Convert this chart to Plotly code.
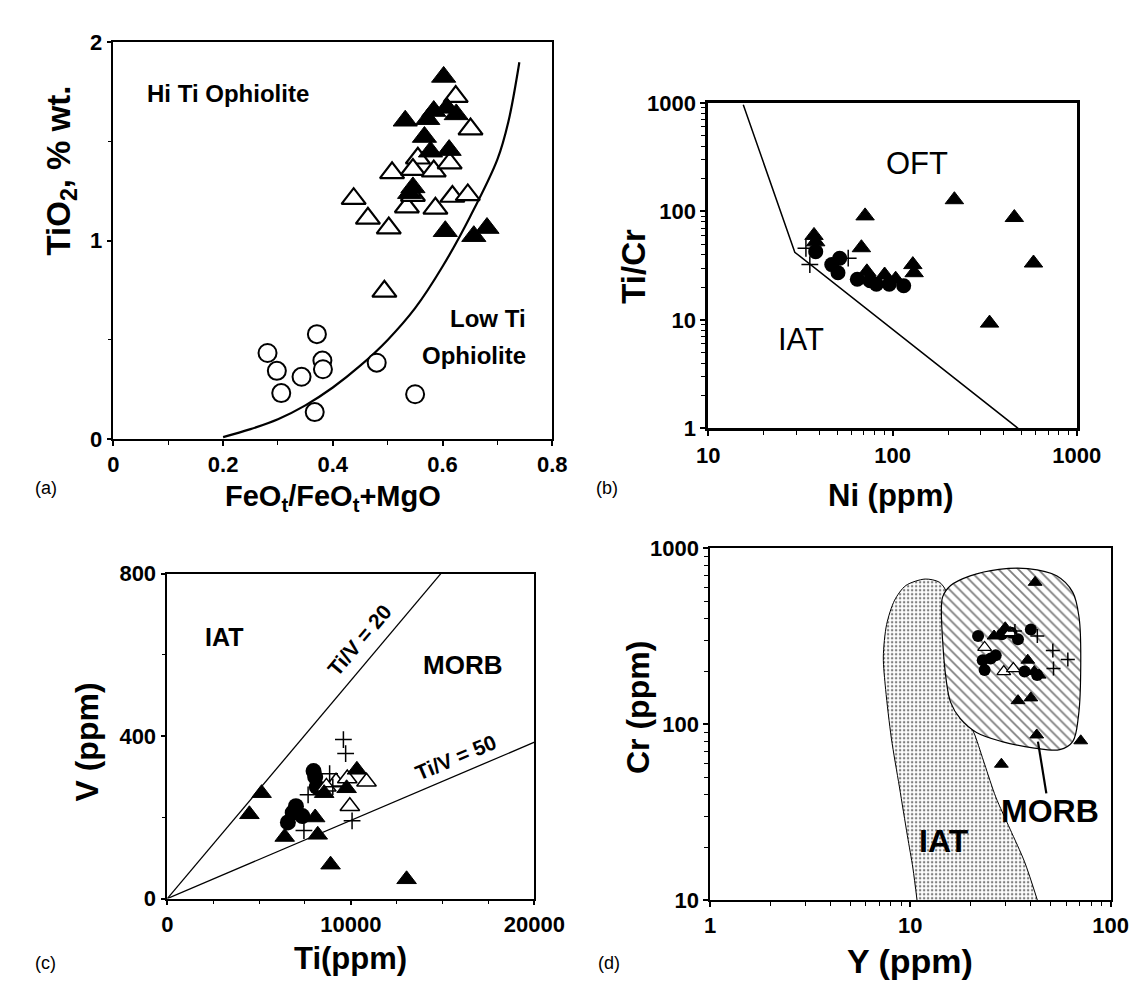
import numpy as np
import plotly.graph_objects as go

W, H = 1147, 984
FONT = "Liberation Sans, Arial, Helvetica, sans-serif"

# ---------------- Panel (a) data ----------------
a_circ_x = [0.281, 0.298, 0.306, 0.343, 0.371, 0.381, 0.382, 0.367, 0.480, 0.550]
a_circ_y = [0.434, 0.344, 0.232, 0.314, 0.529, 0.396, 0.352, 0.136, 0.385, 0.226]
a_open_x = [0.624, 0.651, 0.555, 0.508, 0.546, 0.584, 0.613, 0.438, 0.464, 0.502, 0.535, 0.546, 0.587, 0.618, 0.646, 0.494]
a_open_y = [1.727, 1.563, 1.416, 1.342, 1.359, 1.351, 1.391, 1.212, 1.113, 1.064, 1.170, 1.228, 1.163, 1.223, 1.231, 0.745]
a_fill_x = [0.602, 0.532, 0.573, 0.584, 0.608, 0.625, 0.567, 0.578, 0.612, 0.546, 0.605, 0.657, 0.681, 0.540]
a_fill_y = [1.826, 1.605, 1.613, 1.654, 1.670, 1.637, 1.523, 1.449, 1.457, 1.269, 1.048, 1.023, 1.064, 1.240]
a_curve_x = [0.20, 0.25, 0.30, 0.35, 0.40, 0.45, 0.50, 0.55, 0.60, 0.65, 0.70, 0.72, 0.74]
a_curve_y = [0.01, 0.05, 0.10, 0.17, 0.26, 0.37, 0.50, 0.66, 0.87, 1.12, 1.41, 1.60, 1.90]

# ---------------- Panel (b) data ----------------
b_line_x = [15.5, 29.5, 480]
b_line_y = [960, 42, 1]
b_tri_x = [37.5, 38.3, 71, 67.8, 216.6, 458, 582, 336, 128.9, 131, 72.6, 90.6, 104]
b_tri_y = [60, 52.4, 90.8, 46.2, 128, 87.7, 33.4, 9.33, 32.3, 27.2, 27.7, 25.9, 23.7]
b_dot_x = [38.3, 46.8, 51.7, 50.6, 64.4, 75.5, 81.8, 96, 115]
b_dot_y = [42.5, 32.3, 37, 27.2, 23.7, 22.9, 21.3, 21.3, 20.6]
b_cross_x = [33.9, 35.6, 57.5]
b_cross_y = [45.6, 32.3, 37]

# ---------------- Panel (c) data ----------------
c_line20_x = [0, 14900]
c_line20_y = [0, 800]
c_line50_x = [0, 20000]
c_line50_y = [0, 385]
c_tri_x = [5138, 4474, 10328, 9769, 8545, 8056, 8196, 6396, 8895, 13035]
c_tri_y = [259.5, 207.5, 317, 271.5, 259.5, 199.6, 157, 151.6, 83.5, 47.5]
c_dot_x = [7968, 8056, 8143, 7008, 6833, 6570, 7357]
c_dot_y = [313.8, 299.5, 275, 227.5, 211.5, 187.6, 203]
c_open_x = [9192, 9804, 10852, 9944, 8668]
c_open_y = [287.5, 295.5, 287.5, 227.5, 275]
c_cross_x = [9594, 9716, 8843, 7671, 7444, 10066, 9017]
c_cross_y = [391.5, 357, 307.5, 255.5, 167.5, 191.4, 275]

# ---------------- Panel (d) data ----------------
d_morb_x = [14.3, 14.5, 15.1, 15.9, 17.8, 21.4, 28.7, 41.6, 55.8, 64.7, 69.2, 71, 69.7, 64.7, 53.8, 38.6, 27.7, 19.9, 15.9, 14.5]
d_morb_y = [455, 298, 179, 133, 107, 89.7, 79.6, 73.1, 71.6, 79.6, 112, 221, 401, 563, 697, 766, 759, 697, 614, 529]
d_iat_x = [10.8, 10.3, 9.67, 8.82, 8.04, 7.53, 7.33, 7.61, 8.35, 9.5, 11.85, 14.0, 15.3, 18.5, 21, 23.5, 26.7, 31.5, 37.2, 43.1]
d_iat_y = [10, 15.2, 23.2, 44, 83.2, 157, 241, 368, 507, 614, 668, 640, 551, 122, 86.8, 59.2, 38.6, 25.3, 16.5, 10]
d_tri_x = [42, 71, 28.5, 42.8, 34.5, 40, 38.6, 29.8, 26.2, 41.6, 44]
d_tri_y = [640, 80.4, 59.2, 86.8, 136, 141, 231, 353, 317, 199, 190]
d_dot_x = [21.8, 23, 25.2, 26.7, 34.5, 40, 37.2, 43, 23.5, 28.7, 32]
d_dot_y = [317, 231, 236, 246, 304, 345, 199, 190, 203, 324, 331]
d_open_x = [23.5, 29.3, 32.7, 31.5]
d_open_y = [273, 199, 207, 331]
d_cross_x = [33.3, 43.1, 51.5, 61.2, 51.9]
d_cross_y = [338, 317, 262, 233, 207]
d_arrow_x = [47.8, 43.4]
d_arrow_y = [40.4, 79.6]

# ---------------- helpers ----------------
def PX(x):
    return x / W

def PY(y):
    return 1 - y / H

fig = go.Figure()

def filled_tri(x, y, xa, ya, size):
    fig.add_trace(go.Scatter(x=x, y=y, xaxis=xa, yaxis=ya, mode="markers",
                             marker=dict(symbol="triangle-up", size=size, color="black",
                                         line=dict(color="black", width=1)),
                             showlegend=False, hoverinfo="skip"))

def open_tri(x, y, xa, ya, size, lw=2):
    fig.add_trace(go.Scatter(x=x, y=y, xaxis=xa, yaxis=ya, mode="markers",
                             marker=dict(symbol="triangle-up", size=size, color="white",
                                         line=dict(color="black", width=lw)),
                             showlegend=False, hoverinfo="skip"))

def dots(x, y, xa, ya, size):
    fig.add_trace(go.Scatter(x=x, y=y, xaxis=xa, yaxis=ya, mode="markers",
                             marker=dict(symbol="circle", size=size, color="black"),
                             showlegend=False, hoverinfo="skip"))

def crosses(x, y, xa, ya, size):
    fig.add_trace(go.Scatter(x=x, y=y, xaxis=xa, yaxis=ya, mode="markers",
                             marker=dict(symbol="cross-thin", size=size, color="black",
                                         line=dict(color="black", width=1.5)),
                             showlegend=False, hoverinfo="skip"))

def line(x, y, xa, ya, width=1.5, shape="linear"):
    fig.add_trace(go.Scatter(x=x, y=y, xaxis=xa, yaxis=ya, mode="lines",
                             line=dict(color="black", width=width, shape=shape),
                             showlegend=False, hoverinfo="skip"))

# ---- panel a ----
line(a_curve_x, a_curve_y, "x", "y", width=2.2, shape="spline")
fig.add_trace(go.Scatter(x=a_circ_x, y=a_circ_y, xaxis="x", yaxis="y", mode="markers",
                         marker=dict(symbol="circle", size=18, color="white",
                                     line=dict(color="black", width=2)),
                         showlegend=False, hoverinfo="skip"))
open_tri(a_open_x, a_open_y, "x", "y", 21, lw=2.2)
filled_tri(a_fill_x, a_fill_y, "x", "y", 21)

# ---- panel b ----
line(b_line_x, b_line_y, "x2", "y2", width=1.5)
dots(b_dot_x, b_dot_y, "x2", "y2", 15)
filled_tri(b_tri_x, b_tri_y, "x2", "y2", 16)
crosses(b_cross_x, b_cross_y, "x2", "y2", 12)

# ---- panel c ----
line(c_line20_x, c_line20_y, "x3", "y3", width=1.3)
line(c_line50_x, c_line50_y, "x3", "y3", width=1.3)
dots(c_dot_x, c_dot_y, "x3", "y3", 16)
open_tri(c_open_x, c_open_y, "x3", "y3", 17, lw=1.5)
filled_tri(c_tri_x, c_tri_y, "x3", "y3", 17)
crosses(c_cross_x, c_cross_y, "x3", "y3", 12)

# ---- panel d ----
fig.add_trace(go.Scatter(x=d_iat_x, y=d_iat_y, xaxis="x4", yaxis="y4", mode="lines",
                         fill="toself",
                         fillpattern=dict(shape=".", bgcolor="white", fgcolor="black",
                                          size=4, solidity=0.3),
                         line=dict(color="black", width=1, shape="spline", smoothing=0.8),
                         showlegend=False, hoverinfo="skip"))
fig.add_trace(go.Scatter(x=d_morb_x + d_morb_x[:1], y=d_morb_y + d_morb_y[:1], xaxis="x4", yaxis="y4",
                         mode="lines", fill="toself",
                         fillpattern=dict(shape="\\", bgcolor="white", fgcolor="black",
                                          size=7, solidity=0.26),
                         line=dict(color="black", width=1.2, shape="spline", smoothing=1.0),
                         showlegend=False, hoverinfo="skip"))
line(d_arrow_x, d_arrow_y, "x4", "y4", width=2.2)
dots(d_dot_x, d_dot_y, "x4", "y4", 12)
open_tri(d_open_x, d_open_y, "x4", "y4", 12, lw=1.2)
filled_tri(d_tri_x, d_tri_y, "x4", "y4", 12)
crosses(d_cross_x, d_cross_y, "x4", "y4", 10)

# ---------------- axes ----------------
TICKFONT = dict(family=FONT, size=22, color="black", weight="bold")

def axis(domain, rng, tickvals, ticktext, typ="linear", minor=None, anchor=None, lw=1.5):
    d = dict(domain=domain, range=rng, type=typ, showgrid=False, zeroline=False,
             showline=True, linecolor="black", linewidth=lw, mirror=True,
             ticks="outside", ticklen=5, tickwidth=1.5, tickcolor="black",
             tickfont=TICKFONT, tickmode="array", tickvals=tickvals,
             ticktext=["<b>%s</b>" % t for t in ticktext], anchor=anchor,
             fixedrange=True)
    if minor is not None:
        d["minor"] = dict(tickmode="array", tickvals=minor, ticks="outside", ticklen=4,
                          tickwidth=1, tickcolor="black", showgrid=False)
    return d

def log_minor(dec_lo, dec_hi):
    out = []
    for e in range(dec_lo, dec_hi):
        for m in range(2, 10):
            out.append(m * 10 ** e)
    return out

# pixel boxes
A = dict(x0=97, x1=553, y0=23, y1=430)
B = dict(x0=715, x1=1098, y0=85, y1=419)
C = dict(x0=153, x1=534.5, y0=568, y1=901.5)
D = dict(x0=717, x1=1133, y0=542, y1=903)

def dom_x(b):
    return [PX(b["x0"]), PX(b["x1"])]

def dom_y(b):
    return [PY(b["y1"]), PY(b["y0"])]

fig.update_layout(
    xaxis=axis(dom_x(A), [0, 0.8], [0, 0.2, 0.4, 0.6, 0.8], ["0", "0.2", "0.4", "0.6", "0.8"],
               minor=[0.1, 0.3, 0.5, 0.7], anchor="y"),
    yaxis=axis(dom_y(A), [0, 2], [0, 1, 2], ["0", "1", "2"], minor=[0.5, 1.5], anchor="x"),
    xaxis2=axis(dom_x(B), [1, 3], [10, 100, 1000], ["10", "100", "1000"], typ="log",
                minor=log_minor(1, 3), anchor="y2", lw=2.5),
    yaxis2=axis(dom_y(B), [0, 3], [1, 10, 100, 1000], ["1", "10", "100", "1000"], typ="log",
                minor=log_minor(0, 3), anchor="x2", lw=2.5),
    xaxis3=axis(dom_x(C), [0, 20000], [0, 10000, 20000], ["0", "10000", "20000"],
                minor=[2500, 5000, 7500, 12500, 15000, 17500], anchor="y3"),
    yaxis3=axis(dom_y(C), [0, 800], [0, 400, 800], ["0", "400", "800"], minor=[200, 600], anchor="x3"),
    xaxis4=axis(dom_x(D), [0, 2], [1, 10, 100], ["1", "10", "100"], typ="log",
                minor=log_minor(0, 2), anchor="y4"),
    yaxis4=axis(dom_y(D), [1, 3], [10, 100, 1000], ["10", "100", "1000"], typ="log",
                minor=log_minor(1, 3), anchor="x4"),
)

# ---------------- annotations ----------------
ann = []

def paper_text(text, x, y, size, bold=True, angle=0, xanchor="center", yanchor="middle"):
    ann.append(dict(text=text, x=PX(x), y=PY(y), xref="paper", yref="paper", showarrow=False,
                    textangle=angle, xanchor=xanchor, yanchor=yanchor,
                    font=dict(family=FONT, size=size, color="black", weight="bold" if bold else "normal")))

def data_text(text, x, y, xref, yref, size, bold=True, angle=0, xanchor="center"):
    ann.append(dict(text=text, x=x, y=y, xref=xref, yref=yref, showarrow=False, textangle=angle,
                    xanchor=xanchor, yanchor="middle",
                    font=dict(family=FONT, size=size, color="black", weight="bold" if bold else "normal")))

# axis titles
paper_text("TiO<sub>2</sub>, % wt.", 43, 154, 33, angle=-90)
paper_text("FeO<sub>t</sub>/FeO<sub>t</sub>+MgO", 325, 490, 29)
paper_text("Ti/Cr", 637, 253, 33, angle=-90)
paper_text("Ni (ppm)", 905, 488, 31)
paper_text("V (ppm)", 70, 741, 32, angle=-90)
paper_text("Ti(ppm)", 343, 963, 31)
paper_text("Cr (ppm)", 642, 705, 32, angle=-90)
paper_text("Y (ppm)", 925, 966, 34)
# panel letters
paper_text("(a)", 27, 480, 18, bold=False)
paper_text("(b)", 610, 480, 18, bold=False)
paper_text("(c)", 27, 968, 18, bold=False)
paper_text("(d)", 612, 968, 18, bold=False)

# panel a labels
data_text("Hi Ti Ophiolite", 0.209, 1.744, "x", "y", 24)
data_text("Low Ti", 0.756, 0.609, "x", "y", 24, xanchor="right")
data_text("Ophiolite", 0.756, 0.422, "x", "y", 24, xanchor="right")
# panel b labels
data_text("OFT", np.log10(135), np.log10(274), "x2", "y2", 31, bold=False)
data_text("IAT", np.log10(31.9), np.log10(6.6), "x2", "y2", 31, bold=False)
# panel c labels
data_text("IAT", 3077, 643, "x3", "y3", 25)
data_text("MORB", 16094, 575, "x3", "y3", 26)
data_text("Ti/V = 20", 10450, 635, "x3", "y3", 21, angle=-49.6)
data_text("Ti/V = 50", 15700, 348, "x3", "y3", 21, angle=-22.8)
# panel d labels
data_text("MORB", np.log10(50), np.log10(31.9), "x4", "y4", 32)
data_text("IAT", np.log10(14.8), np.log10(21.8), "x4", "y4", 32)

fig.update_layout(annotations=ann, width=W, height=H, margin=dict(l=0, r=0, t=0, b=0),
                  paper_bgcolor="white", plot_bgcolor="white", showlegend=False)

fig.write_html("out.html")
